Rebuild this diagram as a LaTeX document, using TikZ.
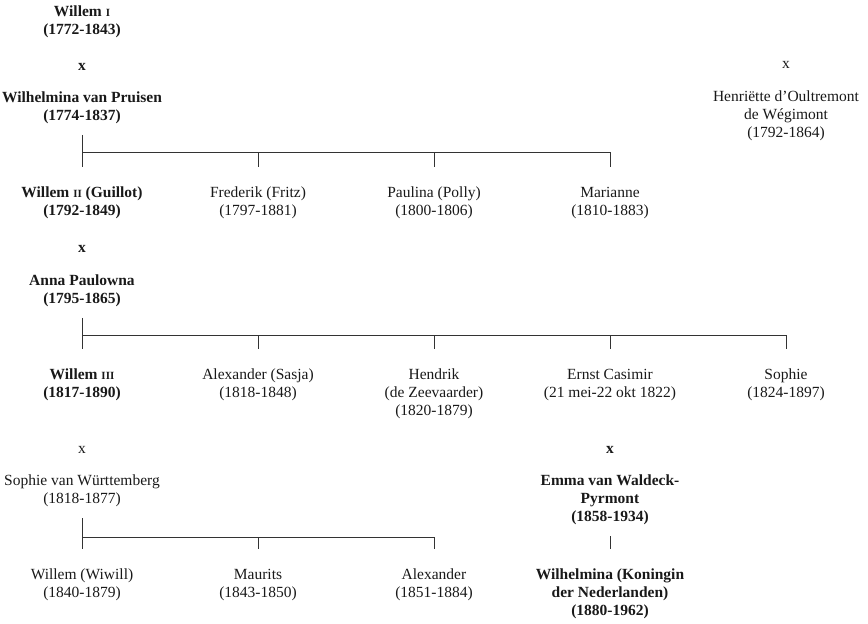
\documentclass[tikz,border=0pt]{standalone}
\usepackage{fontspec}
\setmainfont{Liberation Serif}
\usetikzlibrary{positioning,calc}
\newcommand{\romnum}[1]{{\fontsize{11}{18}\selectfont #1}}
\tikzset{
    person/.style = {align=center, inner sep=0pt, anchor=north, text=black!90,
        font=\fontsize{15.5}{18}\selectfont,
        execute at begin node=\strut, execute at end node=\strut},
    royal/.style = {person, font=\fontsize{15.5}{18}\selectfont\bfseries},
    marr/.style = {inner sep=0pt, anchor=base, text=black!90,
        font=\fontsize{15.5}{18}\selectfont},
    marrb/.style = {marr, font=\fontsize{15.5}{18}\selectfont\bfseries},
    famline/.style = {draw=black!80, line width=0.8pt},
    parentline/.style = {famline, shorten <=9pt},
    tick/.style = {famline, shorten >=20pt}
}

\begin{document}
\begin{tikzpicture}[x=1pt, y=-1pt]
    \useasboundingbox (0,0) rectangle (868,624);
    % Willem I x Wilhelmina
    \node [royal] (w1) at (82,6) {Willem \romnum{I}\\(1772-1843)};
    \node [marrb] (x1) at (82,70) {x};
    \node [royal] (wp) at (82,91.4) {Wilhelmina van Pruisen\\(1774-1837)};
    \node [marr] (x5) at (786,68) {x};
    \node [person] (ho) at (786,91) {Henriëtte d’Oultremont\\de Wégimont\\(1792-1864)};
    % children
    \coordinate (bar1) at (82,152);
    \node [royal] (c1) at (82,187) {Willem \romnum{II} (Guillot)\\(1792-1849)};
    \foreach \i/\name in {2/{Frederik (Fritz)\\(1797-1881)},
                          3/{Paulina (Polly)\\(1800-1806)},
                          4/{Marianne\\(1810-1883)}}{
        \node [person] (c\i) at ({82+176*(\i-1)},187) {\name};
    }
    \draw [parentline] (wp.south) -- (bar1) -- (bar1 -| c4);
    \foreach \i in {1,2,...,4}{
        \draw [tick] (bar1 -| c\i) -- (c\i.north);
    }
    % Willem II x Anna
    \node [marrb] (x2) at (82,252) {x};
    \node [royal] (ap) at (82,274.4) {Anna Paulowna\\(1795-1865)};
    \coordinate (bar2) at (82,335);
    \node [royal] (d1) at (82,368.7) {Willem \romnum{III}\\(1817-1890)};
    \foreach \i/\name in {2/{Alexander (Sasja)\\(1818-1848)},
                          3/{Hendrik\\(de Zeevaarder)\\(1820-1879)},
                          4/{Ernst Casimir\\(21 mei-22 okt 1822)},
                          5/{Sophie\\(1824-1897)}}{
        \node [person] (d\i) at ({82+176*(\i-1)},368.7) {\name};
    }
    \draw [parentline] (ap.south) -- (bar2) -- (bar2 -| d5);
    \foreach \i in {1,2,...,5}{
        \draw [tick] (bar2 -| d\i) -- (d\i.north);
    }
    % Willem III x Sophie / Emma
    \node [marr] (x3) at (82,453) {x};
    \node [marrb] (x4) at (610,453) {x};
    \node [person] (sw) at (82,474.5) {Sophie van Württemberg\\(1818-1877)};
    \node [royal] (em) at (610,474.5) {Emma van Waldeck-\\Pyrmont\\(1858-1934)};
    \coordinate (bar3) at (82,537);
    \foreach \i/\name in {1/{Willem (Wiwill)\\(1840-1879)},
                          2/{Maurits\\(1843-1850)},
                          3/{Alexander\\(1851-1884)}}{
        \node [person] (e\i) at ({82+176*(\i-1)},569) {\name};
    }
    \node [royal] (wk) at (610,569) {Wilhelmina (Koningin\\der Nederlanden)\\(1880-1962)};
    \draw [parentline] (sw.south) -- (bar3) -- (bar3 -| e3);
    \foreach \i in {1,2,3}{
        \draw [tick] (bar3 -| e\i) -- (e\i.north);
    }
    \draw [parentline, tick] (em.south) -- (wk.north);
\end{tikzpicture}
\end{document}
